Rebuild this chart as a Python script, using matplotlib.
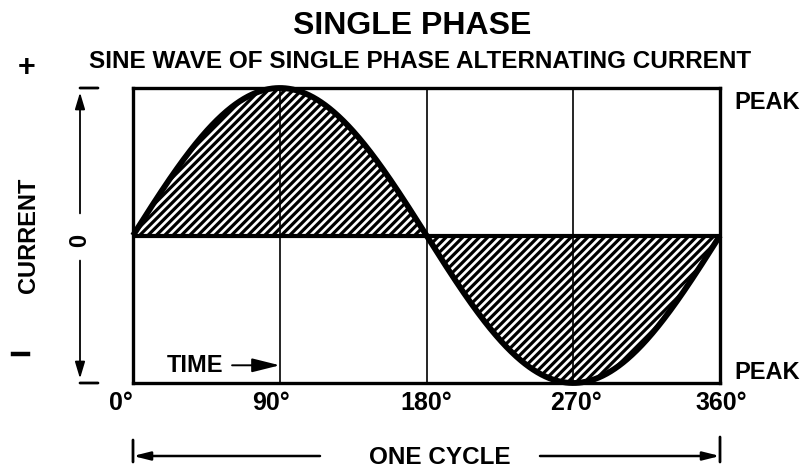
import numpy as np
import matplotlib
matplotlib.use("Agg")
import matplotlib.pyplot as plt
from matplotlib.lines import Line2D

plt.rcParams["font.family"] = ["Liberation Sans", "DejaVu Sans"]
plt.rcParams["font.weight"] = "bold"
plt.rcParams["hatch.linewidth"] = 2.3

# data
DEG_TICKS = [0, 90, 180, 270, 360]
DEG_LABELS = ["0°", "90°", "180°", "270°", "360°"]
LABEL_SHIFT = [-12, -9, 0, 3, 1]   # small offsets of labels in the scan, px
PEAK = 1.0
degrees = np.linspace(0, 360, 721)
current = PEAK * np.sin(np.radians(degrees))

W, H = 805, 475
fig = plt.figure(figsize=(W / 100, H / 100), dpi=100, facecolor="white")

# plot box in pixel terms
L, R, T, B = 133, 720, 88, 383
ax = fig.add_axes([L / W, 1 - B / H, (R - L) / W, (B - T) / H])
ax.set_xlim(0, 360)
ax.set_ylim(-PEAK, PEAK)
ax.set_xticks([])
ax.set_yticks([])
for s in ax.spines.values():
    s.set_linewidth(2.4)

# hatched lobes
ax.fill_between(degrees, 0, current, facecolor="white", edgecolor="black",
                hatch="////", linewidth=0)
# grid lines at 90/180/270
for d in DEG_TICKS[1:-1]:
    ax.axvline(d, color="black", linewidth=1.2, zorder=3)
ax.axhline(0, color="black", linewidth=3.0, zorder=4)
ax.plot(degrees, current, color="black", linewidth=4.2, zorder=5,
        solid_capstyle="butt", clip_on=False)

# degree labels under the box
for d, lab, dx in zip(DEG_TICKS, DEG_LABELS, LABEL_SHIFT):
    ax.annotate(lab, xy=(d, 0), xycoords=("data", "figure pixels"),
                xytext=(dx * 0.72, H - 403), textcoords=("offset points", "figure pixels"),
                ha="center", va="center", fontsize=18)

# titles
fig.text(412 / W, 1 - 26 / H, "SINGLE PHASE", ha="center", va="center", fontsize=23)
fig.text(420 / W, 1 - 62 / H, "SINE WAVE OF SINGLE PHASE ALTERNATING CURRENT",
         ha="center", va="center", fontsize=17.5)
fig.text(27 / W, 1 - 68 / H, "+", ha="center", va="center", fontsize=22)

# left axis: CURRENT, minus sign, 0, arrows
fig.text(28 / W, 1 - 235 / H, "CURRENT", ha="center", va="center",
         rotation=90, fontsize=17)
fig.add_artist(Line2D([13 / W, 28 / W], [1 - 354 / H, 1 - 354 / H],
                      transform=fig.transFigure, color="black", lw=3.2))
fig.text(80 / W, 1 - 240 / H, "0", ha="center", va="center", rotation=90, fontsize=17)
xa = 80 / W
ap = dict(arrowstyle="-|>,head_length=1.0,head_width=0.3", color="black", lw=1.3,
          shrinkA=0, shrinkB=0)
ax.annotate("", xy=(xa, PEAK * 0.97), xycoords=("figure fraction", "data"),
            xytext=(xa, 0.15), textcoords=("figure fraction", "data"), arrowprops=ap)
ax.annotate("", xy=(xa, -PEAK * 0.97), xycoords=("figure fraction", "data"),
            xytext=(xa, -0.17), textcoords=("figure fraction", "data"), arrowprops=ap)
for yv in (PEAK, -PEAK):
    ax.annotate("", xy=(98 / W, yv), xycoords=("figure fraction", "data"),
                xytext=(xa, yv), textcoords=("figure fraction", "data"),
                arrowprops=dict(arrowstyle="-", color="black", lw=2.0,
                                shrinkA=0, shrinkB=0))

# PEAK labels
ax.annotate("PEAK", xy=(734 / W, 0.9), xycoords=("figure fraction", "data"),
            ha="left", va="center", fontsize=17)
ax.annotate("PEAK", xy=(734 / W, -0.93), xycoords=("figure fraction", "data"),
            ha="left", va="center", fontsize=17)

# TIME arrow
ax.annotate("TIME", xy=(90, -0.88), xytext=(21, -0.88),
            ha="left", va="center", fontsize=17,
            arrowprops=dict(arrowstyle="-|>,head_length=1.0,head_width=0.25",
                            color="black", lw=1.4, shrinkA=4, shrinkB=0))

# ONE CYCLE bracket
yc = H - 456
fig.text(440 / W, 1 - 458 / H, "ONE CYCLE", ha="center", va="center", fontsize=17.5)
ax.annotate("", xy=(0, yc), xycoords=("data", "figure pixels"),
            xytext=(320 / W, yc), textcoords=("figure fraction", "figure pixels"),
            arrowprops=dict(arrowstyle="-|>,head_length=1.0,head_width=0.25",
                            color="black", lw=1.8, shrinkA=0, shrinkB=0))
ax.annotate("", xy=(360, yc), xycoords=("data", "figure pixels"),
            xytext=(540 / W, yc), textcoords=("figure fraction", "figure pixels"),
            arrowprops=dict(arrowstyle="-|>,head_length=1.0,head_width=0.25",
                            color="black", lw=1.8, shrinkA=0, shrinkB=0))
for d, top in ((0, H - 440), (360, H - 437)):
    ax.annotate("", xy=(d, top), xycoords=("data", "figure pixels"),
                xytext=(d, H - 462), textcoords=("data", "figure pixels"),
                arrowprops=dict(arrowstyle="-", color="black", lw=2.0,
                                shrinkA=0, shrinkB=0))

fig.savefig("out.png", dpi=100, facecolor="white")
